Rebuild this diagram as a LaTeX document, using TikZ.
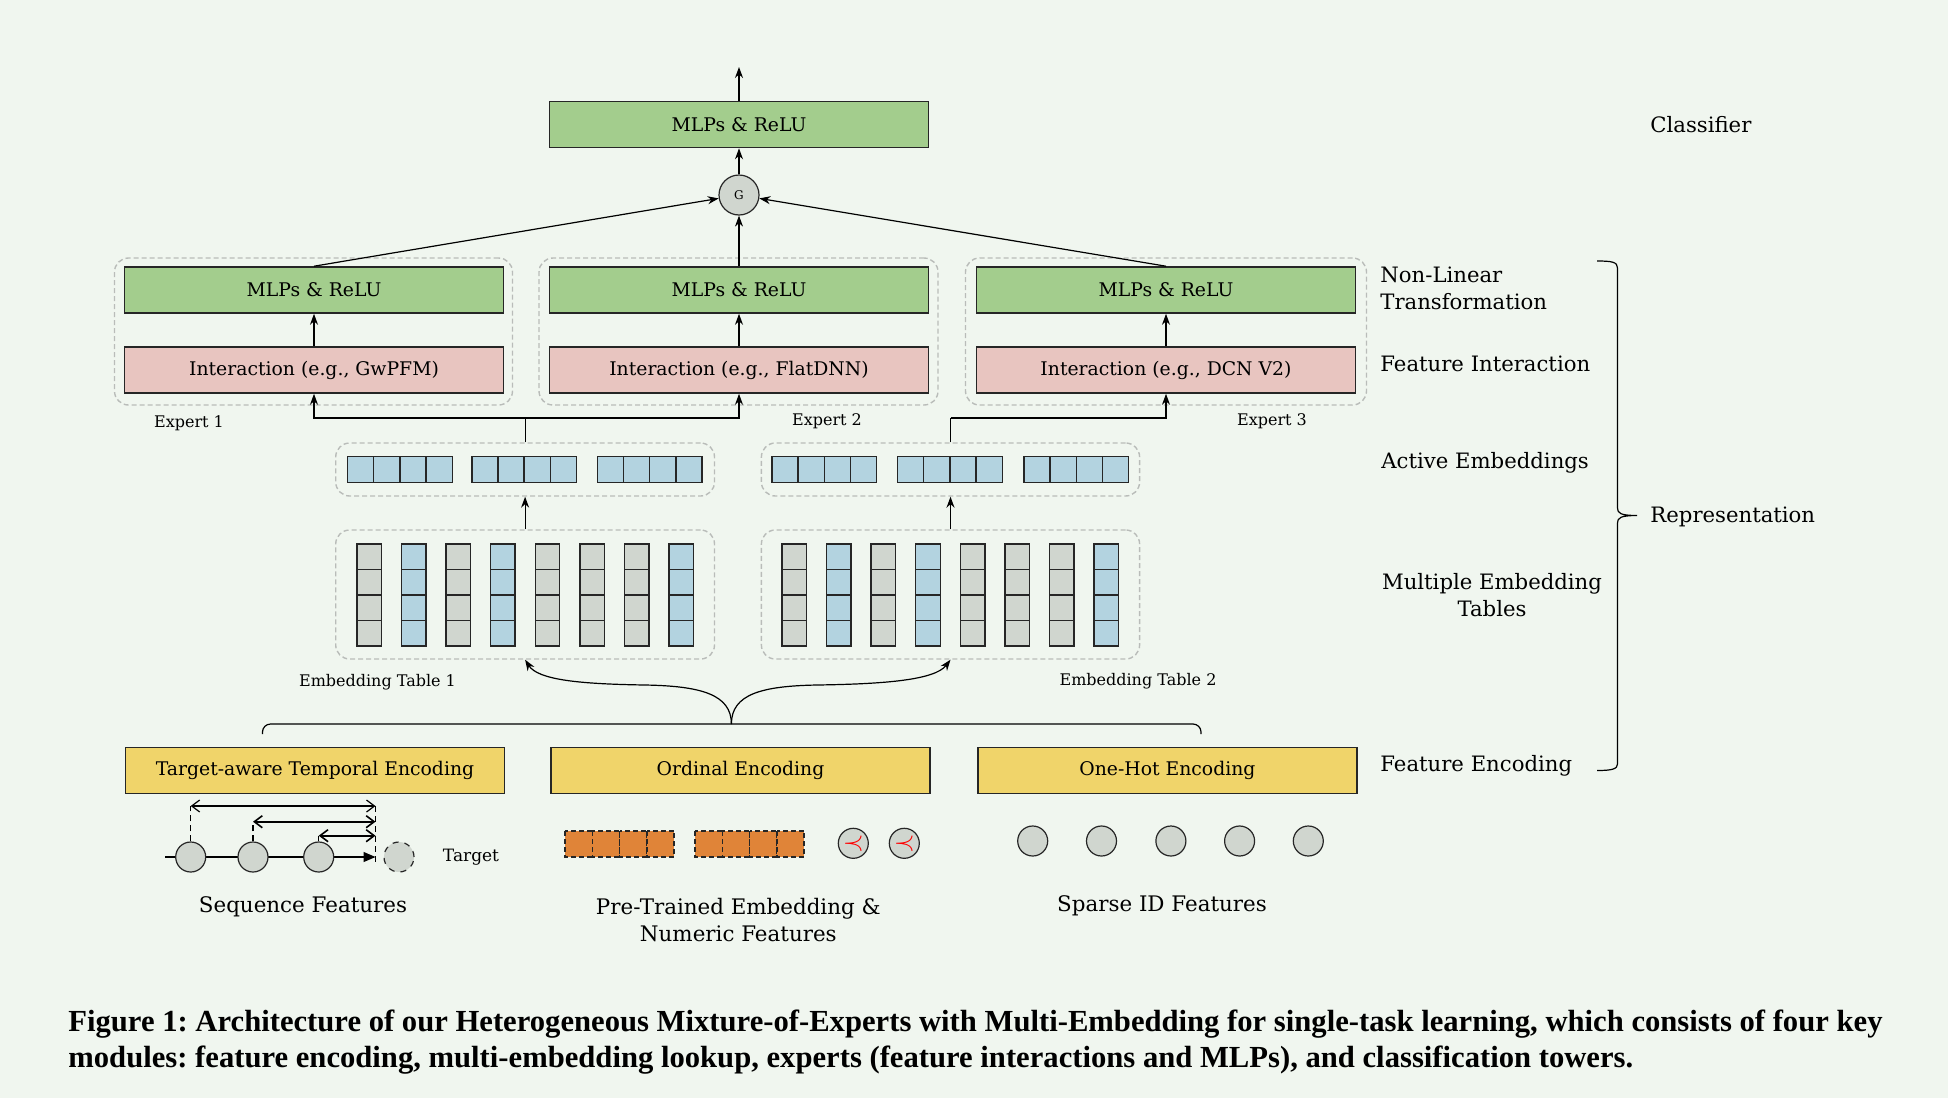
\documentclass[tikz,border=0pt]{standalone}
\usepackage{fontspec}
\setmainfont{DejaVu Serif}
\newfontfamily\capfont{Liberation Serif}
\usetikzlibrary{arrows.meta,calc}
\definecolor{bg}{RGB}{240,246,239}
\definecolor{mlpgreen}{RGB}{163,205,141}
\definecolor{interpink}{RGB}{232,197,192}
\definecolor{encyellow}{RGB}{240,212,106}
\definecolor{cellblue}{RGB}{179,211,224}
\definecolor{cellgray}{RGB}{208,214,207}
\definecolor{ordorange}{RGB}{224,132,56}
\definecolor{groupgray}{RGB}{185,188,185}
\begin{document}
\frenchspacing
\begin{tikzpicture}[x=0.5pt,y=-0.5pt,
  box/.style={draw=black!85, line width=0.8pt, minimum width=189.5pt, minimum height=23pt, inner sep=0pt, font=\fontsize{9.4}{11}\selectfont},
  mlp/.style={box, fill=mlpgreen},
  inter/.style={box, fill=interpink},
  enc/.style={box, fill=encyellow},
  grp/.style={draw=groupgray, dash pattern=on 2.5pt off 1.5pt, line width=0.7pt, rounded corners=7pt, inner sep=0pt},
  arr/.style={-{Stealth[length=5.5pt,width=4pt]}, line width=0.6pt},
  conn/.style={line width=0.6pt},
  cellst/.style={draw=black!85, line width=0.7pt},
  feat/.style={circle, draw=black!85, fill=cellgray, line width=0.6pt, minimum size=15pt, inner sep=0pt},
  side/.style={font=\fontsize{10.6}{13.5}\selectfont, inner sep=0pt, align=left},
  small/.style={font=\fontsize{8}{10}\selectfont, inner sep=0pt},
  bottomlab/.style={font=\fontsize{10.7}{13.5}\selectfont, inner sep=0pt, align=center}
]
\fill[bg] (0,0) rectangle (1948,1098);
\useasboundingbox (0,0) rectangle (1948,1098);

% ---------- classifier ----------
\node[mlp] (top) at (739,124.5) {MLPs \& ReLU};
\coordinate (out) at (739,67);
\draw[arr] (top.north) -- (out);
\node[circle, draw=black!85, fill=cellgray, line width=0.6pt, minimum size=20pt, inner sep=0pt, font=\fontsize{6}{7}\selectfont] (G) at (739,195) {G};
\draw[arr] (G) -- (top.south);

% ---------- experts ----------
\node[grp, minimum width=199pt, minimum height=73.5pt] (ex1) at (313.5,331.5) {};
\node[grp, minimum width=199.5pt, minimum height=73.5pt] (ex2) at (738.5,331.5) {};
\node[grp, minimum width=200.5pt, minimum height=73.5pt] (ex3) at (1166,331.5) {};

\node[mlp] (e1m) at (314,290) {MLPs \& ReLU};
\node[mlp] (e2m) at (739,290) {MLPs \& ReLU};
\node[mlp] (e3m) at (1166,290) {MLPs \& ReLU};
\node[inter] (e1i) at (314,370) {Interaction (e.g., GwPFM)};
\node[inter] (e2i) at (739,370) {Interaction (e.g., FlatDNN)};
\node[inter] (e3i) at (1166,370) {Interaction (e.g., DCN V2)};
\draw[arr] (e1i.north) -- (e1m.south);
\draw[arr] (e2i.north) -- (e2m.south);
\draw[arr] (e3i.north) -- (e3m.south);
\draw[arr] (e1m.north) -- (G);
\draw[arr] (e2m.north) -- (G.south);
\draw[arr] (e3m.north) -- (G);

\node[small] (lx1) at (189,423) {Expert 1};
\node[small] (lx2) at (827,421) {Expert 2};
\node[small] (lx3) at (1272,421) {Expert 3};

% ---------- active embeddings ----------
\node[grp, minimum width=189.4pt, minimum height=26.5pt] (act1) at (525.1,469.5) {};
\node[grp, minimum width=189.1pt, minimum height=26.5pt] (act2) at (950.5,469.5) {};
\foreach \g in {347.6,471.8,597.4,772,897.6,1023.9}{
  \foreach \i in {0,1,2,3}{
    \filldraw[cellst, fill=cellblue] ({\g+26.15*\i},456.7) rectangle ({\g+26.15*(\i+1)},482.3);
  }
}
\coordinate (j1) at (525.1,418);
\coordinate (j2) at (950.5,418);
\draw[conn] (act1.north) -- (j1);
\draw[arr] (j1) -| (e1i.south);
\draw[arr] (j1) -| (e2i.south);
\draw[conn] (act2.north) -- (j2);
\draw[arr] (j2) -| (e3i.south);

% ---------- embedding tables ----------
\node[grp, minimum width=189.4pt, minimum height=64.5pt] (tab1) at (525.1,594.5) {};
\node[grp, minimum width=189.1pt, minimum height=64.5pt] (tab2) at (950.5,594.5) {};
\foreach \t in {356.8,781.9}{
  \foreach \k/\c in {0/cellgray,1/cellblue,2/cellgray,3/cellblue,4/cellgray,5/cellgray,6/cellgray,7/cellblue}{
    \foreach \r in {0,1,2,3}{
      \filldraw[cellst, fill=\c] ({\t+44.6*\k},{544+25.5*\r}) rectangle ({\t+44.6*\k+24.5},{544+25.5*(\r+1)});
    }
  }
}
\draw[arr] (tab1.north) -- (act1.south);
\draw[arr] (tab2.north) -- (act2.south);
\node[small] (lt1) at (377.5,682) {Embedding Table 1};
\node[small] (lt2) at (1138,681) {Embedding Table 2};

% ---------- bottom brace and curved arrows ----------
\coordinate (bl) at (262.5,734);
\coordinate (br) at (1201,734);
\coordinate (bt) at (731.4,724);
\draw[conn, rounded corners=4pt] (bl) -- (262.5,724) -- (1201,724) -- (br);
\draw[arr] (bt) .. controls (731.4,694) and (700,686) .. (645,685) .. controls (580,684) and (538,680) .. (tab1.south);
\draw[arr] (bt) .. controls (731.4,694) and (762,686) .. (817,685) .. controls (885,684) and (935,680) .. (tab2.south);

% ---------- encodings ----------
\node[enc] (enc1) at (315,770.5) {Target-aware Temporal Encoding};
\node[enc] (enc2) at (740.5,770.5) {Ordinal Encoding};
\node[enc] (enc3) at (1167.4,770.5) {One-Hot Encoding};

% ---------- sequence features ----------
\coordinate (s0) at (165,857);
\coordinate (stip) at (375.5,857);
\draw[line width=0.6pt, -{Triangle[length=6pt,width=5pt]}] (s0) -- (stip);
\node[feat] (c1) at (190.7,857) {};
\node[feat] (c2) at (253,857) {};
\node[feat] (c3) at (318.7,857) {};
\node[feat, dashed] (ct) at (399,857) {};
\coordinate (a1) at (190.7,806);
\coordinate (a2) at (253,821.7);
\coordinate (a3) at (318.7,835.7);
\coordinate (r1) at (375.5,806);
\coordinate (r2) at (375.5,821.7);
\coordinate (r3) at (375.5,835.7);
\coordinate (rb) at (375.5,863);
\draw[line width=0.6pt, dash pattern=on 3pt off 2pt] (c1.north) -- (a1);
\draw[line width=0.6pt, dash pattern=on 3pt off 2pt] (c2.north) -- (a2);
\draw[line width=0.6pt, dash pattern=on 3pt off 2pt] (c3.north) -- (a3);
\draw[line width=0.6pt, dash pattern=on 3pt off 2pt] (r1) -- (rb);
\draw[line width=0.6pt, {Straight Barb[length=4pt,width=6pt]}-{Straight Barb[length=4pt,width=6pt]}] (a1) -- (r1);
\draw[line width=0.8pt, {Straight Barb[length=4pt,width=6pt]}-{Straight Barb[length=4pt,width=6pt]}] (a2) -- (r2);
\draw[line width=0.8pt, {Straight Barb[length=4pt,width=6pt]}-{Straight Barb[length=4pt,width=6pt]}] (a3) -- (r3);
\node[font=\fontsize{8.5}{10}\selectfont, inner sep=0pt] (tg) at (471,857) {Target};
\node[bottomlab] (lseq) at (303,907) {Sequence Features};

% ---------- pre-trained / numeric ----------
\foreach \g in {565,695}{
  \foreach \i in {0,1,2,3}{
    \filldraw[fill=ordorange, draw=black!85, line width=0.8pt, dash pattern=on 2.5pt off 1.5pt] ({\g+27.3*\i},831) rectangle ({\g+27.3*(\i+1)},857);
  }
}
\node[feat] (n1) at (853.3,843.3) {\textcolor{red}{\scalebox{1.35}{$\prec$}}};
\node[feat] (n2) at (904.3,843.3) {\textcolor{red}{\scalebox{1.35}{$\prec$}}};
\node[bottomlab] (lpre) at (738.3,920) {Pre-Trained Embedding \&\\Numeric Features};

% ---------- sparse ----------
\node[feat] (p1) at (1032.7,841) {};
\node[feat] (p2) at (1101.5,841) {};
\node[feat] (p3) at (1170.9,841) {};
\node[feat] (p4) at (1239.6,841) {};
\node[feat] (p5) at (1308.3,841) {};
\node[bottomlab] (lsp) at (1162,906) {Sparse ID Features};

% ---------- side labels ----------
\node[side, anchor=west] (lcls) at (1650,125) {Classifier};
\node[side, anchor=west] (lnl) at (1380,288.5) {Non-Linear\\Transformation};
\node[side, anchor=west] (lfi) at (1380,364) {Feature Interaction};
\node[side, anchor=west] (lae) at (1381,463) {Active Embeddings};
\node[side, align=center] (lme) at (1492,595.5) {Multiple Embedding\\Tables};
\node[side, anchor=west] (lfe) at (1380,766) {Feature Encoding};
\node[side, anchor=west] (lrep) at (1650,517) {Representation};
\coordinate (bra) at (1597,261);
\coordinate (brtip) at (1637,515.5);
\coordinate (brz) at (1597,770.5);
\draw[conn] (bra) .. controls (1612,261) and (1617.5,262) .. (1617.5,268) -- (1617.5,508) .. controls (1617.5,513) and (1620,515.5) .. (brtip) .. controls (1620,515.5) and (1617.5,518) .. (1617.5,523) -- (1617.5,764) .. controls (1617.5,769) and (1612,770.5) .. (brz);

% ---------- caption ----------
\node[anchor=base west, inner sep=0pt, font=\capfont\bfseries\fontsize{15.32}{18}\selectfont] (cap1) at (68,1031) {Figure 1: Architecture of our Heterogeneous Mixture-of-Experts with Multi-Embedding for single-task learning, which consists of four key};
\node[anchor=base west, inner sep=0pt, font=\capfont\bfseries\fontsize{15.32}{18}\selectfont] (cap2) at (68,1067) {modules: feature encoding, multi-embedding lookup, experts (feature interactions and MLPs), and classification towers.};
\end{tikzpicture}
\end{document}
